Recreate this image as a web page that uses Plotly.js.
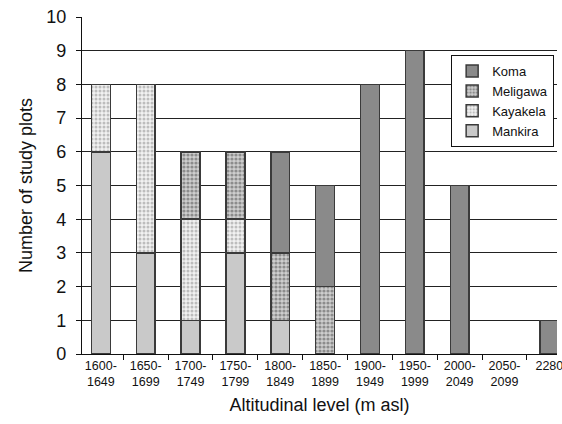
<!DOCTYPE html>
<html><head><meta charset="utf-8">
<script src="https://cdn.plot.ly/plotly-3.0.1.min.js"></script>
<style>html,body{margin:0;padding:0;background:#fff}#chart{width:562px;height:424px}</style>
</head><body><div id="chart"></div>
<script>
const categories = ["1600-<br>1649","1650-<br>1699","1700-<br>1749","1750-<br>1799","1800-<br>1849","1850-<br>1899","1900-<br>1949","1950-<br>1999","2000-<br>2049","2050-<br>2099","2280"];
const mankira  = [6,3,1,3,1,null,null,null,null,null,null];
const kayakela = [2,5,3,1,null,null,null,null,null,null,null];
const meligawa = [null,null,2,2,2,2,null,null,null,null,null];
const koma     = [null,null,null,null,3,3,8,9,5,null,1];

const line = {color:'#3a3a3a', width:1.5};
const W = 0.42;
const traces = [
  {name:'Mankira', y:mankira, marker:{color:'#c9c9c9', line:line}},
  {name:'Kayakela', y:kayakela, marker:{color:'#efefef', line:line, pattern:{shape:'.', bgcolor:'#f2f2f2', fgcolor:'#bdbdbd', size:4, solidity:0.45}}},
  {name:'Meligawa', y:meligawa, marker:{color:'#bdbdbd', line:line, pattern:{shape:'.', bgcolor:'#cfcfcf', fgcolor:'#8c8c8c', size:4, solidity:0.5}}},
  {name:'Koma', y:koma, marker:{color:'#8a8a8a', line:line}}
].map(t => Object.assign({type:'bar', x:categories, width:W, hoverinfo:'none'}, t));

const layout = {
  width:562, height:424,
  margin:{l:82, r:5, t:17, b:70, autoexpand:false},
  barmode:'stack',
  paper_bgcolor:'#fff', plot_bgcolor:'#fff',
  font:{family:'"Liberation Sans", Arial, Helvetica, sans-serif', color:'#111'},
  xaxis:{
    type:'category', range:[-0.42, 10.17], automargin:false,
    showline:true, linecolor:'#111', linewidth:1.2,
    ticks:'outside', tickson:'boundaries', ticklen:5, tickcolor:'#111',
    tickfont:{size:12.5}, showgrid:false,
    title:{text:'Altitudinal level (m asl)', font:{size:18}, standoff:10}
  },
  yaxis:{
    range:[0,10], dtick:1, tick0:0, automargin:false,
    showline:true, linecolor:'#111', linewidth:1.2,
    ticks:'outside', ticklen:5, tickcolor:'#111', ticklabelstandoff:6,
    tickfont:{size:18},
    showgrid:true, gridcolor:'#222', gridwidth:1, zeroline:false,
    title:{text:'Number of study plots', font:{size:18}, standoff:8}
  },
  legend:{
    x:0.994, y:0.887, xanchor:'right', yanchor:'top',
    bgcolor:'#fff', bordercolor:'#111', borderwidth:1,
    traceorder:'reversed', font:{size:13}, tracegroupgap:0,
    itemwidth:30
  },
  showlegend:true
};
Plotly.newPlot('chart', traces, layout, {staticPlot:true, displayModeBar:false});
</script></body></html>
